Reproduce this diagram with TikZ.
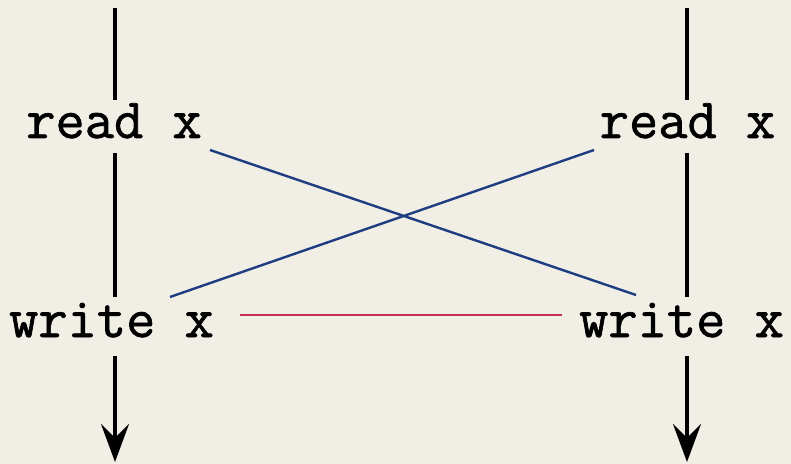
\documentclass[tikz,border=0pt]{standalone}
\usepackage{fontspec}
\newfontfamily\opfont{Latin Modern Mono}[FakeBold=1.2]
\usetikzlibrary{arrows.meta}
\definecolor{paper}{HTML}{F0EEE5}
\definecolor{xblue}{HTML}{1E3C82}
\definecolor{xred}{HTML}{C4304E}
\tikzset{
  opread/.style={font=\opfont\fontsize{28.4}{28.4}\selectfont, anchor=base, inner xsep=0pt, inner ysep=0pt, text height=19pt, text depth=7.5pt},
  opwrite/.style={font=\opfont\fontsize{28.4}{28.4}\selectfont, anchor=base, inner xsep=0pt, inner ysep=0pt, text height=20pt, text depth=9.5pt},
  timeline/.style={line width=1.6pt, black},
  timearrow/.style={timeline, -{Stealth[length=19pt,width=14pt,inset=7pt]}},
  cross/.style={line width=1.2pt, xblue},
  conflict/.style={line width=0.8pt, xred}
}
\begin{document}
\begin{tikzpicture}[x=0.5pt,y=-0.5pt]
\fill[paper] (0,0) rectangle (791,464);
\useasboundingbox (0,0) rectangle (791,464);
% timelines ends
\coordinate (lt) at (115,8);
\coordinate (lb) at (115,462);
\coordinate (rt) at (687,8);
\coordinate (rb) at (687,462);
% operations
\node[opread]  (rl) at (114,138) {read x};
\node[opwrite] (wl) at (111.5,337) {write x};
\node[opread]  (rr) at (687.5,138) {read x};
\node[opwrite] (wr) at (681.5,337) {write x};
% left timeline
\draw[timeline] (lt) -- (lt |- rl.north);
\draw[timeline] (lt |- rl.south) -- (lt |- wl.north);
\draw[timearrow] (lt |- wl.south) -- (lb);
% right timeline
\draw[timeline] (rt) -- (rt |- rr.north);
\draw[timeline] (rt |- rr.south) -- (rt |- wr.north);
\draw[timearrow] (rt |- wr.south) -- (rb);
% crossing lines
\coordinate (c1s) at (210,150);
\coordinate (c1e) at (636,295);
\coordinate (c2s) at (170,297);
\coordinate (c2e) at (594,150);
\draw[cross] (c1s) -- (c1e);
\draw[cross] (c2s) -- (c2e);
% write-write line
\coordinate (ws) at (240,315);
\coordinate (we) at (562,315);
\draw[conflict] (ws) -- (we);
\end{tikzpicture}
\end{document}
